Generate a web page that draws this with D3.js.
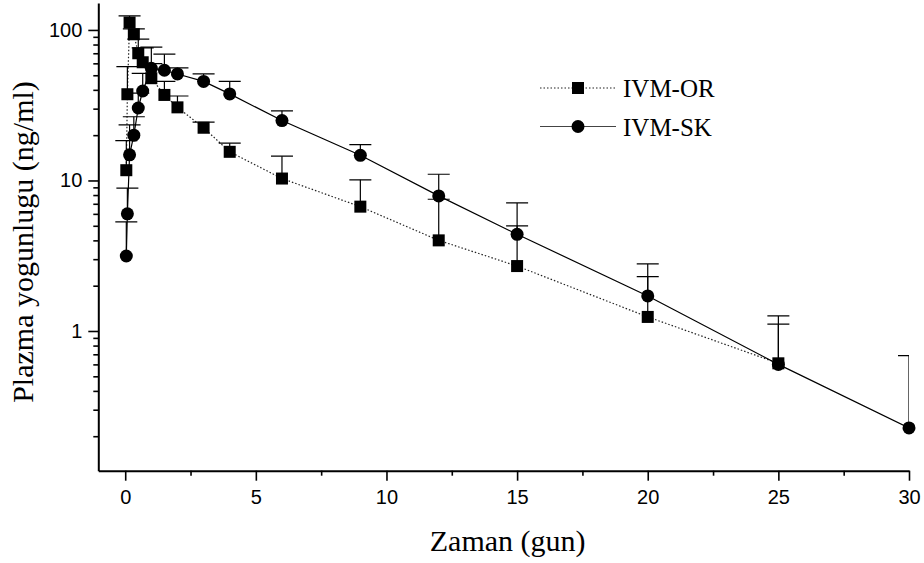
<!DOCTYPE html>
<meta charset="utf-8">
<head>
    <script src="https://d3js.org/d3.v7.min.js"></script>
    <title>IVM</title>
</head>
<body>
    <div id="viz"></div>
</body>
<style>
    body {
        margin: 0;
        background: #fff;
    }
    .tick text {
        font-family: 'Liberation Sans', Arial, sans-serif;
    }
    .title {
        font-family: 'Liberation Serif', 'Times New Roman', serif;
        fill: #000;
    }
</style>
<script>
    // sampling times (days)
    var times = [0.042, 0.083, 0.167, 0.33, 0.5, 0.67, 1, 1.5, 2, 3, 4, 6, 9, 12, 15, 20, 25, 30];

    // IVM-OR (oral) mean and SD, ng/ml (no sample at day 30)
    var orMean = [11.7, 37.4, 112, 93.6, 70, 61, 47.8, 37, 30.6, 22.4, 15.5, 10.3, 6.7, 4.0, 2.7, 1.24, 0.61];
    var orSD = [6.7, 19.6, 12, 8, 17, 15, 12, 8.6, 5.8, 2, 2.2, 4.2, 3.4, 3.5, 2.3, 1.06, 0.5];

    // IVM-SK (subcutaneous) mean and SD, ng/ml
    var skMean = [3.15, 6.0, 14.8, 20, 30.3, 39.3, 55.6, 54, 51, 45.5, 37.6, 25, 14.7, 7.9, 4.39, 1.71, 0.6, 0.227];
    var skSD = [2.15, 2.9, 8.6, 6.5, 7.7, 12.2, 21.4, 15, 5, 5.5, 8, 4, 2.6, 3.1, 2.7, 1.08, 0.66, 0.46];

    var xTicks = [0, 5, 10, 15, 20, 25, 30];
    var xMinor = [2.5, 7.5, 12.5, 17.5, 22.5, 27.5];
    var yTicks = [1, 10, 100];

    var width = 924, height = 563;
    var plot = { left: 98.3, right: 909, top: 3, bottom: 470.7 };

    var svg = d3.select("#viz")
        .append("svg")
        .attr("width", width)
        .attr("height", height);

    var x = d3.scaleLinear()
        .domain([-1.03, 30])
        .range([plot.left, plot.right]);

    var y = d3.scaleLog()
        .domain([0.118, 151])
        .range([plot.bottom, plot.top]);

    // minor ticks on log axis: 2..9 of each decade inside the domain
    var yMinor = [];
    [0.1, 1, 10, 100].forEach(function (dec) {
        for (var k = 2; k <= 9; k++) {
            var v = dec * k;
            if (v > y.domain()[0] && v < y.domain()[1]) yMinor.push(v);
        }
    });

    // X axis
    svg.append("g")
        .attr("transform", "translate(0," + plot.bottom + ")")
        .call(d3.axisBottom(x).tickValues(xMinor).tickSize(5).tickFormat(""))
        .select(".domain").remove();
    var gx = svg.append("g")
        .attr("transform", "translate(0," + plot.bottom + ")")
        .call(d3.axisBottom(x).tickValues(xTicks).tickSize(10).tickSizeOuter(0).tickPadding(9));
    gx.selectAll("text").style("font-size", "20px");

    // Y axis
    svg.append("g")
        .attr("transform", "translate(" + plot.left + ",0)")
        .call(d3.axisLeft(y).tickValues(yMinor).tickSize(5).tickFormat(""))
        .select(".domain").remove();
    var gy = svg.append("g")
        .attr("transform", "translate(" + plot.left + ",0)")
        .call(d3.axisLeft(y).tickValues(yTicks).tickSize(10).tickSizeOuter(0).tickPadding(6)
            .tickFormat(d3.format("d")));
    gy.selectAll("text").style("font-size", "20px");

    svg.selectAll(".domain, .tick line").attr("stroke", "#000").attr("stroke-width", 1.6);
    svg.selectAll(".domain").attr("stroke-width", 2);

    // clip for lines and error bars
    svg.append("clipPath").attr("id", "plotclip")
        .append("rect")
        .attr("x", plot.left).attr("y", plot.top)
        .attr("width", plot.right - plot.left).attr("height", plot.bottom - plot.top);

    var area = svg.append("g").attr("clip-path", "url(#plotclip)");

    var orData = orMean.map(function (v, i) { return { t: times[i], v: v, sd: orSD[i] }; });
    var skData = skMean.map(function (v, i) { return { t: times[i], v: v, sd: skSD[i] }; });

    var line = d3.line()
        .x(function (d) { return x(d.t); })
        .y(function (d) { return y(d.v); });

    area.append("path")
        .datum(orData)
        .attr("d", line)
        .attr("fill", "none")
        .attr("stroke", "#222")
        .attr("stroke-width", 1.2)
        .attr("stroke-dasharray", "1.5,2");

    area.append("path")
        .datum(skData)
        .attr("d", line)
        .attr("fill", "none")
        .attr("stroke", "#000")
        .attr("stroke-width", 1.2);

    // error bars (upper only)
    var capW = 11;
    function errorBars(data) {
        var g = area.append("g").attr("stroke", "#000").attr("stroke-width", 1.2);
        g.selectAll("line.v")
            .data(data)
            .enter().append("line")
            .attr("x1", function (d) { return x(d.t); })
            .attr("x2", function (d) { return x(d.t); })
            .attr("y1", function (d) { return y(d.v); })
            .attr("y2", function (d) { return y(d.v + d.sd); });
        g.selectAll("line.c")
            .data(data)
            .enter().append("line")
            .attr("x1", function (d) { return x(d.t) - capW; })
            .attr("x2", function (d) { return x(d.t) + capW; })
            .attr("y1", function (d) { return y(d.v + d.sd); })
            .attr("y2", function (d) { return y(d.v + d.sd); });
    }
    errorBars(orData);
    errorBars(skData);

    // markers
    var sq = 12;
    svg.append("g").selectAll("rect")
        .data(orData)
        .enter().append("rect")
        .attr("x", function (d) { return x(d.t) - sq / 2; })
        .attr("y", function (d) { return y(d.v) - sq / 2; })
        .attr("width", sq).attr("height", sq)
        .attr("fill", "#000");

    svg.append("g").selectAll("circle")
        .data(skData)
        .enter().append("circle")
        .attr("cx", function (d) { return x(d.t); })
        .attr("cy", function (d) { return y(d.v); })
        .attr("r", 6.5)
        .attr("fill", "#000");

    // axis titles
    svg.append("text")
        .attr("class", "title")
        .attr("x", (plot.left + plot.right) / 2 + 4)
        .attr("y", 551)
        .attr("text-anchor", "middle")
        .style("font-size", "30px")
        .text("Zaman (gun)");

    svg.append("text")
        .attr("class", "title")
        .attr("transform", "translate(33," + 242 + ") rotate(-90)")
        .attr("text-anchor", "middle")
        .style("font-size", "30px")
        .text("Plazma yogunlugu (ng/ml)");

    // legend
    var legend = [
        { name: "IVM-OR", dash: "1.5,2", shape: "square" },
        { name: "IVM-SK", dash: null, shape: "circle" }
    ];
    var lg = svg.append("g").attr("transform", "translate(540,88)");
    legend.forEach(function (L, i) {
        var ly = i * 38.5;
        lg.append("line")
            .attr("x1", 0).attr("x2", 76)
            .attr("y1", ly).attr("y2", ly)
            .attr("stroke", L.dash ? "#222" : "#444")
            .attr("stroke-width", 1.2)
            .attr("stroke-dasharray", L.dash);
        if (L.shape === "square") {
            lg.append("rect")
                .attr("x", 38 - sq / 2).attr("y", ly - sq / 2)
                .attr("width", sq).attr("height", sq)
                .attr("fill", "#000");
        } else {
            lg.append("circle")
                .attr("cx", 38).attr("cy", ly).attr("r", 6.5)
                .attr("fill", "#000");
        }
        lg.append("text")
            .attr("class", "title")
            .attr("x", 83)
            .attr("y", ly + 9)
            .style("font-size", "25px")
            .text(L.name);
    });
</script>
